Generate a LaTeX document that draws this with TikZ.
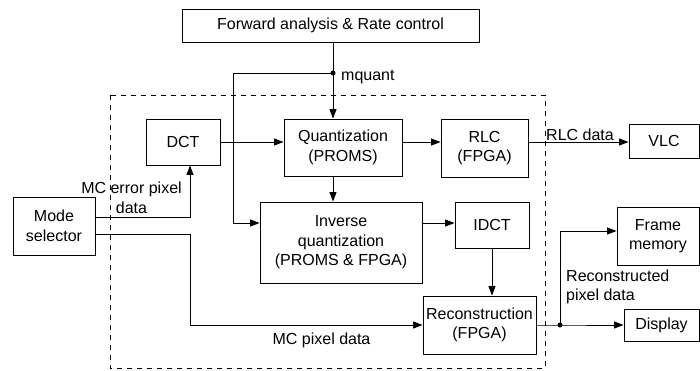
\documentclass[tikz,border=0pt]{standalone}
\usepackage{fontspec}
\setmainfont{Liberation Sans}
\usetikzlibrary{arrows.meta,calc}
\begin{document}
\begin{tikzpicture}[x=1pt,y=-1pt,
  txt/.style={font=\fontsize{16}{19.5}\selectfont},
  blk/.style={txt,draw,line width=0.9pt,align=center,inner sep=0pt},
  lbl/.style={txt,inner sep=0pt},
  wire/.style={line width=0.9pt},
  arr/.style={wire,-{Triangle[length=9.5pt,width=7pt]}},
  junction/.style={circle,fill,inner sep=0pt,minimum size=5pt},
  boundary/.style={line width=0.9pt,dash pattern=on 5pt off 5pt}]
\useasboundingbox (0,0) rectangle (700,370);

% hardware boundary
\draw[boundary] (110,95) rectangle (545,368);

% blocks
\node[blk,minimum width=297pt,minimum height=33pt] (fwd)   at (330.5,25.5) {Forward analysis \& Rate control};
\node[blk,minimum width=74pt, minimum height=46pt] (dct)   at (183,142)    {DCT};
\node[blk,minimum width=118pt,minimum height=57pt] (quant) at (343,147.5)  {Quantization\\(PROMS)};
\node[blk,minimum width=87pt, minimum height=58pt] (rlc)   at (484.5,148)  {RLC\\(FPGA)};
\node[blk,minimum width=70pt, minimum height=34pt] (vlc)   at (664,141)    {VLC};
\node[blk,minimum width=82pt, minimum height=58pt] (mode)  at (54,226)     {Mode\\selector};
\node[blk,minimum width=162pt,minimum height=81pt] (iq)    at (341,242.5)  {Inverse\\quantization\\(PROMS \& FPGA)};
\node[blk,minimum width=74pt, minimum height=46pt] (idct)  at (492,225)    {IDCT};
\node[blk,minimum width=113pt,minimum height=58pt] (rec)   at (479.5,325)  {Reconstruction\\(FPGA)};
\node[blk,minimum width=82pt, minimum height=58pt] (fm)    at (658,236)    {Frame\\memory};
\node[blk,minimum width=75pt, minimum height=32pt] (disp)  at (661.5,325)  {Display};

% routing points
\coordinate (mq)    at (333,73);
\coordinate (fb)    at (233,73);
\coordinate (fbend) at (233,223);
\coordinate (err)   at (190,217);
\coordinate (mcp)   at (190,234);
\coordinate (split) at (560,325);
\coordinate (fmin)  at (560,231);

% mquant distribution
\draw[arr] (fwd.south -| mq) -- (quant.north -| mq);
\draw[arr] (mq) -- (fb) -- (fbend) -- (iq.west |- fbend);
\node[junction] (mqdot) at (mq) {};

% forward path
\draw[arr] (dct.east) -- (quant.west |- dct.east);
\draw[arr] (quant.east |- dct) -- (rlc.west |- dct);
\draw[arr] (rlc.east |- dct) -- (vlc.west |- dct);

% reconstruction loop
\draw[arr] (quant.south -| mq) -- (iq.north -| mq);
\draw[arr] (iq.east |- fbend) -- (idct.west |- fbend);
\draw[arr] (idct.south) -- (rec.north -| idct.south);

% mode selector outputs
\draw[arr] (mode.east |- err) -- (err) -- (dct.south -| err);
\draw[arr] (mode.east |- mcp) -- (mcp) |- (rec.west);

% reconstructed output
\draw[arr] (rec.east) -- (split) -- (disp.west);
\draw[arr] (split) -- (fmin) -- (fm.west |- fmin);
\node[junction] (splitdot) at (split) {};

% labels
\node[lbl,anchor=west] (mqlbl) at (341,77) {mquant};
\node[lbl,anchor=base west] (rlclbl) at (546,140) {RLC data};
\node[lbl,align=center] (errlbl) at (131.5,198) {MC error pixel\\data};
\node[lbl] (mcplbl) at (321.5,340) {MC pixel data};
\node[lbl,align=left,anchor=west] (reclbl) at (566,287) {Reconstructed\\pixel data};
\end{tikzpicture}
\end{document}
